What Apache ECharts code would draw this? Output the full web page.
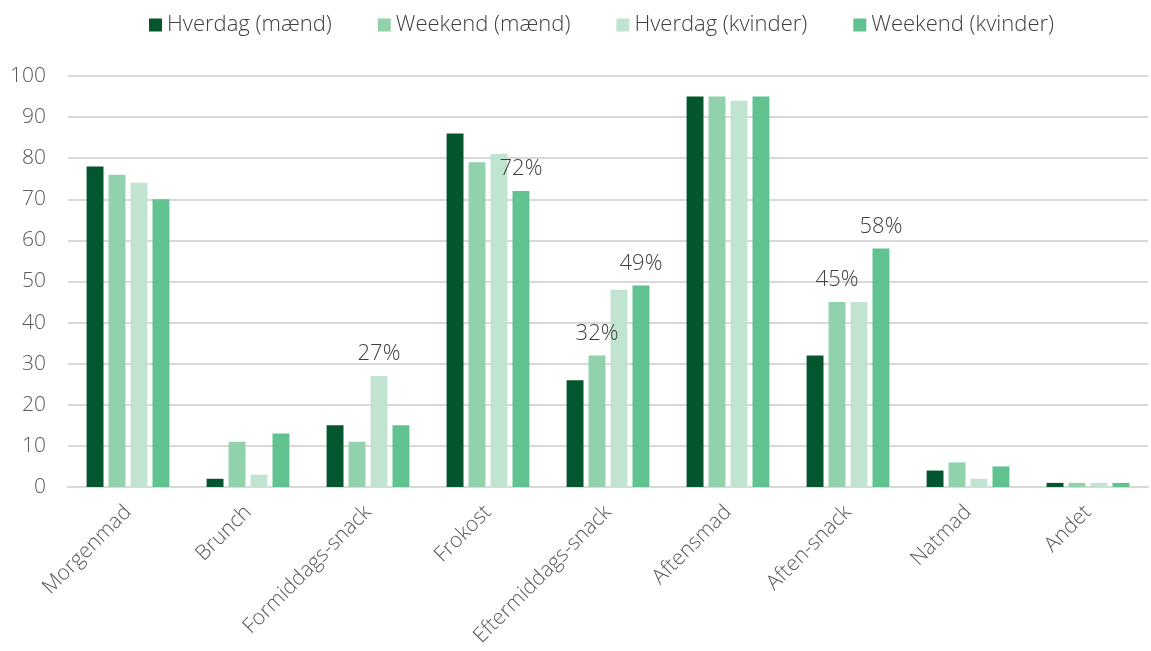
<!DOCTYPE html>
<html>
<head>
<meta charset="utf-8">
<script src="https://cdn.jsdelivr.net/npm/echarts@6/dist/echarts.min.js"></script>
<style>
  html, body { margin: 0; padding: 0; background: #fff; }
  #chart { width: 1151px; height: 651px; }
</style>
</head>
<body>
<div id="chart"></div>
<script>
// categories and series
var categories = ['Morgenmad', 'Brunch', 'Formiddags-snack', 'Frokost', 'Eftermiddags-snack', 'Aftensmad', 'Aften-snack', 'Natmad', 'Andet'];
var seriesNames = ['Hverdag (mænd)', 'Weekend (mænd)', 'Hverdag (kvinder)', 'Weekend (kvinder)'];
var hverdagMaend = [78, 2, 15, 86, 26, 95, 32, 4, 1];
var weekendMaend = [76, 11, 11, 79, 32, 95, 45, 6, 1];
var hverdagKvinder = [74, 3, 27, 81, 48, 94, 45, 2, 1];
var weekendKvinder = [70, 13, 15, 72, 49, 95, 58, 5, 1];
// [category index, series index] of the bars that carry a percentage label
var labelled = [[2, 2], [3, 3], [4, 1], [4, 3], [6, 1], [6, 3]];
var yTicks = [0, 10, 20, 30, 40, 50, 60, 70, 80, 90, 100];

var colors = ['#03562e', '#91d2ad', '#c1e4d0', '#60c28f'];
var fontFamily = '"Open Sans", sans-serif';

function buildData(values, si) {
  return values.map(function (v, ci) {
    var show = labelled.some(function (p) { return p[0] === ci && p[1] === si; });
    return { value: v, label: { show: show } };
  });
}

var chart = echarts.init(document.getElementById('chart'));
var allValues = [hverdagMaend, weekendMaend, hverdagKvinder, weekendKvinder];

var option = {
  animation: false,
  color: colors,
  legend: {
    top: 9,
    left: 144,
    itemWidth: 13,
    itemHeight: 13,
    itemGap: 46,
    icon: 'rect',
    textStyle: { fontSize: 22, color: '#404040', fontFamily: fontFamily, fontWeight: 300 },
    data: seriesNames
  },
  grid: { left: 68, right: 3, top: 76, bottom: 164 },
  xAxis: {
    type: 'category',
    data: categories,
    axisTick: { show: false },
    axisLine: { lineStyle: { color: '#d9d9d9', width: 2 } },
    axisLabel: {
      rotate: 45,
      margin: 22,
      fontSize: 21,
      color: '#595959',
      fontFamily: fontFamily,
      fontWeight: 300,
      interval: 0
    }
  },
  yAxis: {
    type: 'value',
    min: yTicks[0],
    max: yTicks[yTicks.length - 1],
    interval: 10,
    axisLine: { show: false },
    axisTick: { show: false },
    splitLine: { lineStyle: { color: '#d9d9d9', width: 2 } },
    axisLabel: {
      margin: 22,
      fontSize: 21,
      color: '#595959',
      fontFamily: fontFamily,
      fontWeight: 300
    }
  },
  series: seriesNames.map(function (name, si) {
    return {
      name: name,
      type: 'bar',
      barGap: '30%',
      barCategoryGap: '31%',
      data: buildData(allValues[si], si),
      label: {
        position: 'top',
        distance: 11,
        fontSize: 22,
        color: '#404040',
        fontFamily: fontFamily,
        fontWeight: 300,
        formatter: '{c}%'
      }
    };
  })
};

chart.setOption(option);
</script>
</body>
</html>
